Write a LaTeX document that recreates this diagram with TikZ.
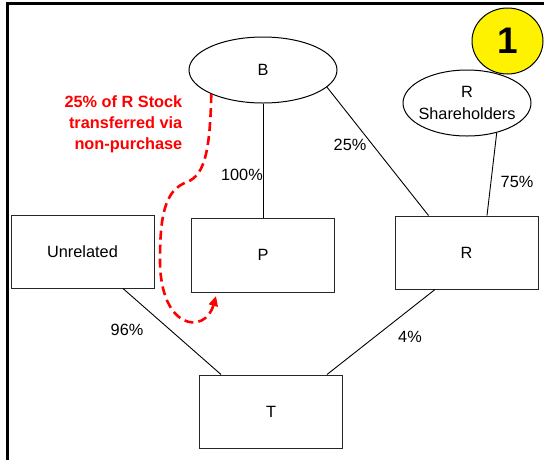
\documentclass[tikz,border=0pt]{standalone}
\usepackage{fontspec}
\setmainfont{Liberation Sans}
\usetikzlibrary{shapes.geometric,arrows.meta}
\begin{document}
\begin{tikzpicture}[x=1pt,y=-1pt,
  txt/.style={font=\fontsize{16.3}{22}\selectfont},
  box/.style={txt,draw=black!85,line width=1pt,rectangle,minimum width=143pt,minimum height=73pt,inner sep=0pt},
  oval/.style={txt,draw=black,line width=1pt,ellipse,inner sep=0pt,align=center},
  lbl/.style={txt,inner sep=0pt},
  link/.style={draw=black,line width=0.9pt},
  redlink/.style={draw=red,line width=2.6pt,dash pattern=on 9pt off 5pt,-{Triangle[length=10pt,width=9pt]}},
  rednote/.style={text=red,font=\bfseries\fontsize{16.3}{21}\selectfont,align=right,inner sep=0pt}]
\useasboundingbox (0,0) rectangle (544,459);
% frame
\draw[line width=3pt] (7.5,460) -- (7.5,3.8) -- (545,3.8);
% nodes
\node[draw=black,line width=1pt,fill=yellow,ellipse,minimum width=71pt,minimum height=66pt,inner sep=0pt,font=\bfseries\fontsize{37}{37}\selectfont] (one) at (507.5,41) {1};
\node[oval,minimum width=148pt,minimum height=66pt] (B) at (263,70) {B};
\node[oval,fill=white,inner xsep=-8pt,minimum width=128pt,minimum height=66pt] (RS) at (467,103) {R\\Shareholders};
\node[box] (U) at (82.5,251.5) {Unrelated};
\node[box,minimum height=74pt] (P) at (263,255) {P};
\node[box] (R) at (466.5,252.5) {R};
\node[box] (T) at (271,411.5) {T};
% connectors
\draw[link] (B.south) -- (P.north);
\draw[link] (B.-15) -- ([xshift=-38pt]R.north);
\draw[link] (RS.-45) -- ([xshift=20.5pt]R.north);
\draw[link] ([xshift=40.5pt]U.south) -- ([xshift=-50pt]T.north);
\draw[link] ([xshift=-31.5pt]R.south) -- ([xshift=56pt]T.north);
% labels
\node[lbl,anchor=east] (l100) at (263,175) {100\%};
\node[lbl] (l25) at (350,145) {25\%};
\node[lbl] (l75) at (517,182) {75\%};
\node[lbl] (l96) at (127,330) {96\%};
\node[lbl] (l4) at (410,337) {4\%};
% red transfer
\node[rednote,anchor=east] (note) at (182.5,124) {25\% of R Stock\\transferred via\\non-purchase};
\coordinate (tip) at (216,296);
\draw[redlink] (B.205) .. controls (210,150) and (205,175) .. (187,182)
  .. controls (165,190) and (160,215) .. (160,260)
  .. controls (160,330) and (205,335) .. (tip);
\end{tikzpicture}
\end{document}
